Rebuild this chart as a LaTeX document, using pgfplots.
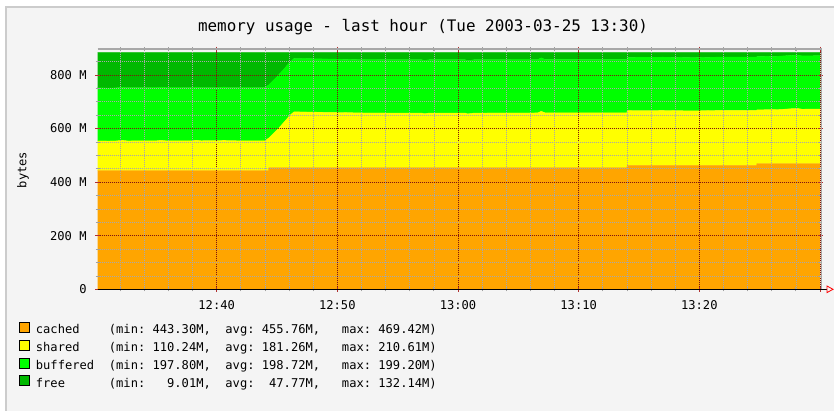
\documentclass[border=0pt]{standalone}
\usepackage{fontspec}
\setmainfont{DejaVu Sans Mono}
\usepackage{pgfplots}
\usepackage{pgfplotstable}
\pgfplotsset{compat=1.18}
\definecolor{panel}{HTML}{F4F4F4}
\definecolor{bordergray}{HTML}{CCCCCC}
\definecolor{cachedc}{HTML}{FFA500}
\definecolor{sharedc}{HTML}{FFFF00}
\definecolor{bufferedc}{HTML}{00FF00}
\definecolor{freec}{HTML}{00B900}
\definecolor{mgrid}{HTML}{801510}
\definecolor{gridc}{HTML}{A8A8A8}
\definecolor{mtick}{HTML}{B03030}
\definecolor{tickgray}{HTML}{A0A0A0}
\definecolor{framegray}{HTML}{A8A8A8}

\pgfplotstableread{
t      cached  shared  buffered free
0.0    443.3   110.6   198.6    131.0
1.0    443.3   110.24  197.8    132.14
1.6    443.3   110.4   198.2    131.6
2.2    443.3   112.8   198.4    129.0
2.6    443.3   110.6   198.5    131.1
5.0    443.3   111.0   198.5    130.7
5.4    443.3   113.0   198.5    128.7
5.8    443.3   111.0   198.5    130.7
8.0    443.3   111.2   198.5    130.5
8.3    443.3   113.2   198.5    128.5
8.7    443.3   111.2   198.5    130.5
10.3   443.3   111.4   198.5    130.3
10.6   443.3   113.4   198.5    128.3
10.9   443.3   111.4   198.5    130.3
12.5   443.3   111.0   198.5    130.7
14.0   443.3   110.8   198.5    130.9
14.3   443.3   121.0   198.6    120.6
14.32  454.0   110.3   198.6    120.6
14.84  454.0   134.0   198.9    96.6
15.25  454.0   153.0   198.9    77.6
15.67  454.0   174.5   199.0    56.0
16.08  454.0   196.0   199.0    34.5
16.41  454.0   208.5   199.1    21.9
18.0   454.0   207.5   199.1    22.9
19.3   454.0   206.5   199.1    23.9
20.0   454.0   206.0   199.1    24.4
22.0   454.0   204.5   199.0    26.0
24.5   454.0   204.0   199.0    26.5
27.0   454.0   204.0   199.0    26.5
27.2   454.0   201.5   199.0    29.0
27.6   454.0   204.0   199.0    26.5
30.6   454.0   204.0   198.9    26.6
30.8   454.0   201.0   198.9    29.6
31.3   454.0   204.0   198.9    26.6
36.6   454.0   204.5   199.0    26.0
36.9   454.0   210.61  199.2    19.69
37.2   454.0   205.0   199.0    25.5
41.0   454.0   205.0   199.0    25.5
44.0   454.0   205.0   199.0    25.5
44.02  463.0   204.0   199.1    17.4
47.0   463.0   204.5   199.1    16.9
49.5   463.0   203.0   199.1    18.4
52.0   463.0   205.0   199.1    16.4
54.75  463.0   205.0   199.1    16.4
54.77  469.4   200.5   199.1    14.5
56.5   469.4   201.5   199.1    13.5
58.1   469.4   206.0   199.09   9.01
58.5   469.4   203.0   199.1    12.0
60.0   469.4   203.5   199.1    11.5
}\memdata

\newcommand{\lgfont}{\fontsize{12.1bp}{14bp}\selectfont}

\begin{document}
\frenchspacing
\begin{tikzpicture}
\useasboundingbox (0,0) rectangle (834bp,411bp);
\fill[white] (0,0) rectangle (834bp,411bp);
\fill[panel] (5bp,0) rectangle (834bp,405bp);
\fill[bordergray] (5bp,0) rectangle (7bp,405bp);
\fill[bordergray] (5bp,403bp) rectangle (834bp,405bp);
\node[font=\fontsize{15.9bp}{18bp}\selectfont] at (423bp,384.3bp) {memory usage - last hour (Tue 2003-03-25 13:30)};
\begin{axis}[
  at={(97.7bp,121.7bp)}, anchor=south west,
  scale only axis, width=722.3bp, height=240.3bp,
  xmin=0.14, xmax=60, ymin=0, ymax=897,
  stack plots=y,
  axis on top,
  axis line style={draw=none},
  xtick={10,20,30,40,50,60},
  xticklabels={12:40,12:50,13:00,13:10,13:20,{}},
  minor xtick={2,4,6,8,12,14,16,18,22,24,26,28,32,34,36,38,42,44,46,48,52,54,56,58},
  ytick={0,200,400,600,800},
  yticklabels={0,200 M,400 M,600 M,800 M},
  minor ytick={50,100,150,250,300,350,450,500,550,650,700,750,850},
  grid=both,
  major grid style={draw=mgrid, dash pattern=on 1bp off 1bp, line width=0.75bp},
  minor grid style={draw=gridc, dash pattern=on 1bp off 1bp, line width=0.7bp},
  tick align=center,
  major tick length=5bp, minor tick length=4bp,
  major tick style={draw=mtick, line width=0.8bp},
  minor tick style={draw=tickgray, line width=0.8bp},
  tick label style={font=\lgfont},
  xticklabel style={anchor=base, inner sep=0pt, yshift=-17.8bp},
  yticklabel style={anchor=base east, inner sep=0pt, xshift=-8.4bp, yshift=-4.4bp},
]
\addplot[fill=cachedc, draw=cachedc, line width=0.3bp] table[x=t, y=cached] {\memdata} \closedcycle;
\addplot[fill=sharedc, draw=sharedc, line width=0.3bp] table[x=t, y=shared] {\memdata} \closedcycle;
\addplot[fill=bufferedc, draw=bufferedc, line width=0.3bp] table[x=t, y=buffered] {\memdata} \closedcycle;
\addplot[fill=freec, draw=freec, line width=0.3bp] table[x=t, y=free] {\memdata} \closedcycle;
\end{axis}
\draw[framegray, line width=1.2bp] (97.7bp,362bp) -- (822bp,362bp);
\draw[framegray, line width=1bp] (821.7bp,121.7bp) -- (821.7bp,362bp);
\draw[black, line width=1bp] (97.7bp,121.7bp) -- (827bp,121.7bp);
\draw[red, line width=0.8bp] (827bp,118.4bp) -- (833bp,121.7bp) -- (827bp,125bp) -- cycle;
\node[rotate=90, font=\lgfont] at (23bp,241bp) {bytes};
% legend
\filldraw[fill=cachedc, draw=black, line width=0.6bp] (19.3bp,78.7bp) rectangle (29.3bp,88.7bp);
\filldraw[fill=sharedc, draw=black, line width=0.6bp] (19.3bp,60.9bp) rectangle (29.3bp,70.9bp);
\filldraw[fill=bufferedc, draw=black, line width=0.6bp] (19.3bp,43.1bp) rectangle (29.3bp,53.1bp);
\filldraw[fill=freec, draw=black, line width=0.6bp] (19.3bp,25.3bp) rectangle (29.3bp,35.3bp);
\node[anchor=base west, inner sep=0pt, font=\lgfont] at (35.7bp,77bp) {cached};
\node[anchor=base west, inner sep=0pt, font=\lgfont] at (35.7bp,59.2bp) {shared};
\node[anchor=base west, inner sep=0pt, font=\lgfont] at (35.7bp,41.4bp) {buffered};
\node[anchor=base west, inner sep=0pt, font=\lgfont] at (35.7bp,23.6bp) {free};
\node[anchor=base west, inner sep=0pt, font=\lgfont] at (108.7bp,77bp) {(min:~443.30M,~~avg:~455.76M,~~~max:~469.42M)};
\node[anchor=base west, inner sep=0pt, font=\lgfont] at (108.7bp,59.2bp) {(min:~110.24M,~~avg:~181.26M,~~~max:~210.61M)};
\node[anchor=base west, inner sep=0pt, font=\lgfont] at (108.7bp,41.4bp) {(min:~197.80M,~~avg:~198.72M,~~~max:~199.20M)};
\node[anchor=base west, inner sep=0pt, font=\lgfont] at (108.7bp,23.6bp) {(min:~~~9.01M,~~avg:~~47.77M,~~~max:~132.14M)};
\end{tikzpicture}
\end{document}
